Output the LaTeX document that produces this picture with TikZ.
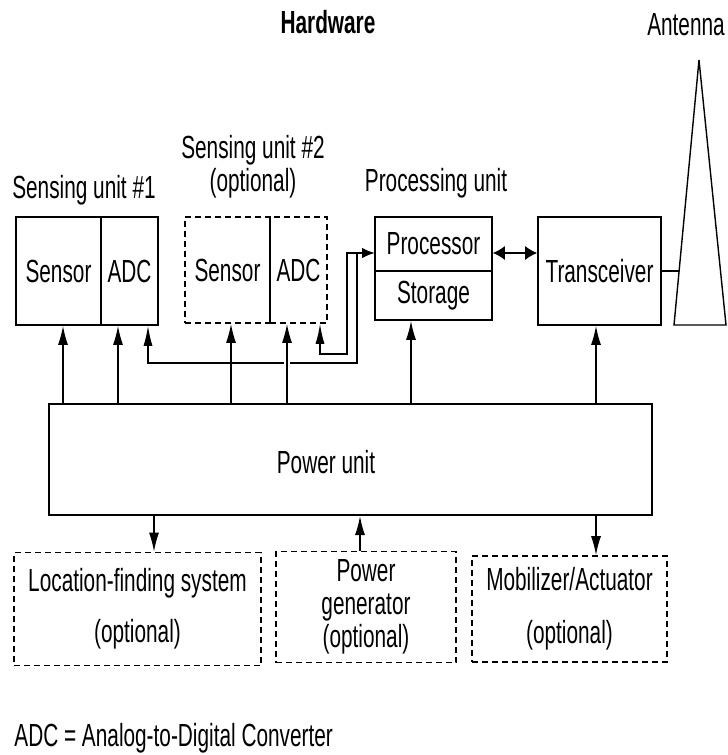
\documentclass[tikz,border=0pt]{standalone}
\usepackage{fontspec}
\setmainfont{Liberation Sans}[FakeStretch=0.65]
\usepackage{tikz}
\usetikzlibrary{arrows.meta,calc}

\begin{document}
\begin{tikzpicture}[x=0.5pt,y=-0.5pt,
  every node/.style={font=\fontsize{16}{16.5}\selectfont},
  box/.style={draw,line width=0.8pt,inner sep=0pt},
  optbox/.style={box,dashed,dash pattern=on 3pt off 2pt},
  pw/.style={line width=0.7pt,-{Latex[length=9.5pt,width=5pt]}},
  sig/.style={line width=0.7pt,{Latex[length=10pt,width=4.5pt]}-{Latex[length=6pt,width=5pt]}},
  link/.style={line width=0.7pt,{Latex[length=6pt,width=7pt]}-{Latex[length=6pt,width=7pt]}}]
\useasboundingbox (0,0) rectangle (728,755);

% titles
\node (hw) at (328,22) {\bfseries Hardware};
\node (antlbl) at (686,25) {Antenna};
\node (s1lbl) at (84,190) {Sensing unit \#1};
\node[align=center] (s2lbl) at (253,167) {Sensing unit \#2\\(optional)};
\node (plbl) at (436,183) {Processing unit};

% sensing units
\node[box,minimum width=42.5pt,minimum height=54pt] (s1sensor) at (58.5,271) {Sensor};
\node[box,minimum width=28.5pt,minimum height=54pt] (s1adc) at (129.5,271) {ADC};
\node[optbox,minimum width=42.5pt,minimum height=53pt] (s2sensor) at (227.5,270) {Sensor};
\node[optbox,minimum width=28.5pt,minimum height=53pt] (s2adc) at (298.5,270) {ADC};

% processing unit and radio
\node[box,minimum width=58.5pt,minimum height=27pt] (proc) at (433.5,244) {Processor};
\node[box,minimum width=58.5pt,minimum height=24.5pt] (stor) at (433.5,295.5) {Storage};
\node[box,minimum width=61.5pt,minimum height=54pt] (trx) at (599.5,271) {Transceiver};

% antenna
\draw[line width=0.7pt] (674,325) -- (699,60) -- (726,325) -- cycle;
\coordinate (feed) at (679,271);
\draw[line width=0.7pt] (trx.east |- feed) -- (feed);
\draw[link] (proc.east |- 0,253) -- (trx.west |- 0,253);

% power
\node[box,line width=1pt,minimum width=301.5pt,minimum height=55.5pt] (power) at (350.5,459.5) {};
\node (pwrlbl) at (326,462) {Power unit};

% optional units
\node[optbox,align=center,minimum width=123.5pt,minimum height=56.5pt] (loc) at (137.5,609)
  {Location-finding system\\[9pt](optional)};
\node[optbox,align=center,minimum width=90pt,minimum height=55.5pt] (gen) at (366,607)
  {Power\\generator\\(optional)};
\node[optbox,align=center,minimum width=97.5pt,minimum height=53pt] (mob) at (569.5,609)
  {Mobilizer/Actuator\\[10pt](optional)};

% ADC outputs to processor
\draw[sig] (s1adc.south -| 148,0) |- (357,363) |- (proc.west |- 0,253);
\draw[white,line width=3pt] (287,358) -- (287,368);
\draw[sig] (s2adc.south -| 320,0) |- (347,354) |- (proc.west |- 0,253);

% power lines
\draw[pw] (power.north -| 63,0) -- (s1sensor.south -| 63,0);
\draw[pw] (power.north -| 118,0) -- (s1adc.south -| 118,0);
\draw[pw] (power.north -| 231,0) -- (s2sensor.south -| 231,0);
\draw[pw] (power.north -| 287,0) -- (s2adc.south -| 287,0);
\draw[pw] (power.north -| 411,0) -- (stor.south -| 411,0);
\draw[pw] (power.north -| 596,0) -- (trx.south -| 596,0);
\draw[pw] (power.south -| 154,0) -- (loc.north -| 154,0);
\draw[pw] (gen.north -| 360,0) -- (power.south -| 360,0);
\draw[pw] (power.south -| 596,0) -- (mob.north -| 596,0);

\node[anchor=west,inner sep=0pt] (note) at (14,738) {ADC = Analog-to-Digital Converter};
\end{tikzpicture}
\end{document}
